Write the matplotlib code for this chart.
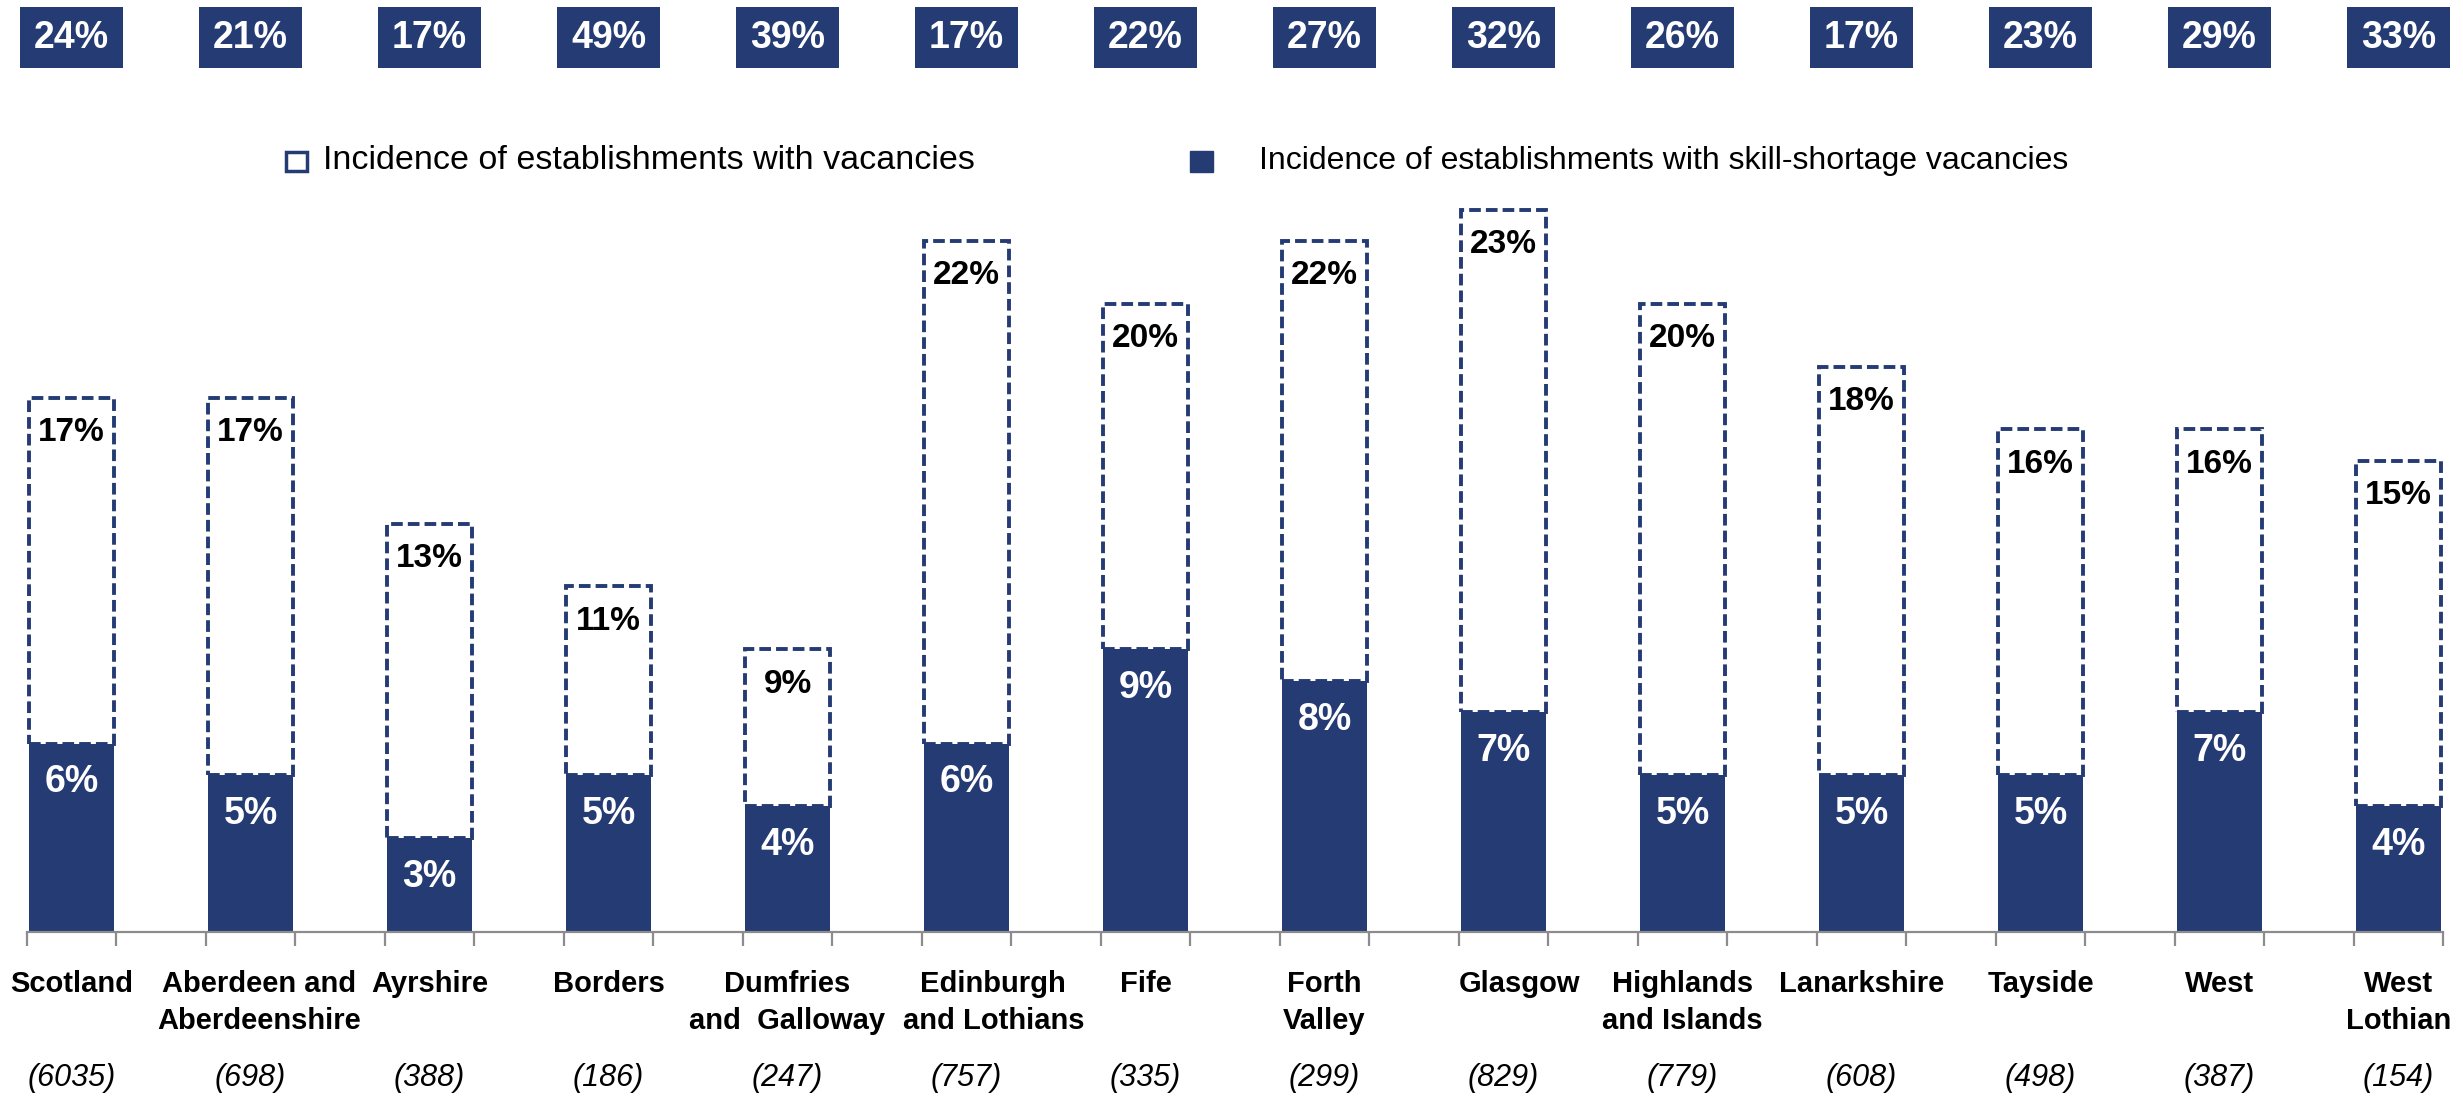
import numpy as np
import matplotlib
matplotlib.use('Agg')
import matplotlib.pyplot as plt
from matplotlib.patches import Rectangle
from matplotlib.transforms import blended_transform_factory

plt.rcParams['font.family'] = ['Liberation Sans', 'DejaVu Sans']

# Data
regions = ['Scotland', 'Aberdeen and\nAberdeenshire', 'Ayrshire', 'Borders',
           'Dumfries\nand  Galloway', 'Edinburgh\nand Lothians', 'Fife',
           'Forth\nValley', 'Glasgow', 'Highlands\nand Islands', 'Lanarkshire',
           'Tayside', 'West', 'West\nLothian']
base_counts = [6035, 698, 388, 186, 247, 757, 335, 299, 829, 779, 608, 498, 387, 154]
vacancies = [17, 17, 13, 11, 9, 22, 20, 22, 23, 20, 18, 16, 16, 15]
skill_shortage = [6, 5, 3, 5, 4, 6, 9, 8, 7, 5, 5, 5, 7, 4]
top_values = [24, 21, 17, 49, 39, 17, 22, 27, 32, 26, 17, 23, 29, 33]

legend_labels = ['Incidence of establishments with vacancies',
                 'Incidence of establishments with skill-shortage vacancies']

NAVY = '#253B74'
GREY = '#8C8C8C'

W, H = 2463, 1097
BASE_PX = 932        # baseline, pixels from top
STEP_PX = 179        # pixels between categories
X0_PX = 71.5         # centre of first category
PX_PER_PCT = 31.41

# small sideways shifts for a few region names so they don't collide
name_shift = {'Aberdeen and\nAberdeenshire': 0.05, 'Edinburgh\nand Lothians': 0.15,
              'Glasgow': 0.09}

fig = plt.figure(figsize=(W / 100, H / 100), dpi=100)
ax = fig.add_axes([0, (H - BASE_PX) / H, 1, BASE_PX / H])

n = len(regions)
x = np.arange(n)
vac = np.array(vacancies)
skl = np.array(skill_shortage)
bw = 0.47

ax.bar(x, skl, width=bw, color=NAVY, zorder=2)
ax.bar(x, vac - skl, bottom=skl, width=bw, facecolor='white', edgecolor=NAVY,
       linewidth=2.8, linestyle=(0, (3.0, 1.3)), zorder=3)

for i in range(n):
    ax.text(x[i], vac[i] - 1.11, f'{vac[i]}%', ha='center', va='center',
            fontsize=24, fontweight='bold', color='black', zorder=5)
    ax.text(x[i], skl[i] - 1.24, f'{skl[i]}%', ha='center', va='center',
            fontsize=27, fontweight='bold', color='white', zorder=5)

# axis styling
for side in ['top', 'right', 'left']:
    ax.spines[side].set_visible(False)
ax.spines['bottom'].set_color(GREY)
ax.spines['bottom'].set_linewidth(1.6)
ax.spines['bottom'].set_bounds(-0.25, n - 1 + 0.25)
ax.set_yticks([])
ax.set_xticks(np.arange(-0.25, n - 0.5, 0.5))
ax.set_xticklabels([])
ax.tick_params(axis='x', direction='out', length=10, width=1.6, color=GREY)
ax.set_xlim(-X0_PX / STEP_PX, (W - X0_PX) / STEP_PX)
ax.set_ylim(0, BASE_PX / PX_PER_PCT)

trans = blended_transform_factory(ax.transData, fig.transFigure)

# region names and base sizes
for i in range(n):
    dx = name_shift.get(regions[i], 0)
    ax.text(x[i] + dx, 1 - 970 / H, regions[i], transform=trans, ha='center',
            va='top', fontsize=21, fontweight='bold', linespacing=1.4)
    ax.text(x[i], 1 - 1078 / H, f'({base_counts[i]})', transform=trans,
            ha='center', va='center', fontsize=22, fontstyle='italic')

# boxes along the top
for i in range(n):
    ax.add_patch(Rectangle((x[i] - 0.29, 1 - 68 / H), 0.58, 61 / H,
                           transform=trans, facecolor=NAVY, edgecolor='none',
                           clip_on=False))
    ax.text(x[i], 1 - 37.5 / H, f'{top_values[i]}%', transform=trans,
            ha='center', va='center', fontsize=27, fontweight='bold', color='white')

# legend
fig.add_artist(Rectangle((286 / W, 1 - 171 / H), 21 / W, 19 / H,
                         transform=fig.transFigure, facecolor='white',
                         edgecolor=NAVY, linewidth=2.5))
fig.text(323 / W, 1 - 161 / H, legend_labels[0], ha='left', va='center', fontsize=24.5)
fig.add_artist(Rectangle((1190 / W, 1 - 172 / H), 23 / W, 21 / H,
                         transform=fig.transFigure, facecolor=NAVY,
                         edgecolor=NAVY, linewidth=1))
fig.text(1259 / W, 1 - 161 / H, legend_labels[1], ha='left', va='center', fontsize=23)

fig.savefig('out.png', dpi=100, facecolor='white')
